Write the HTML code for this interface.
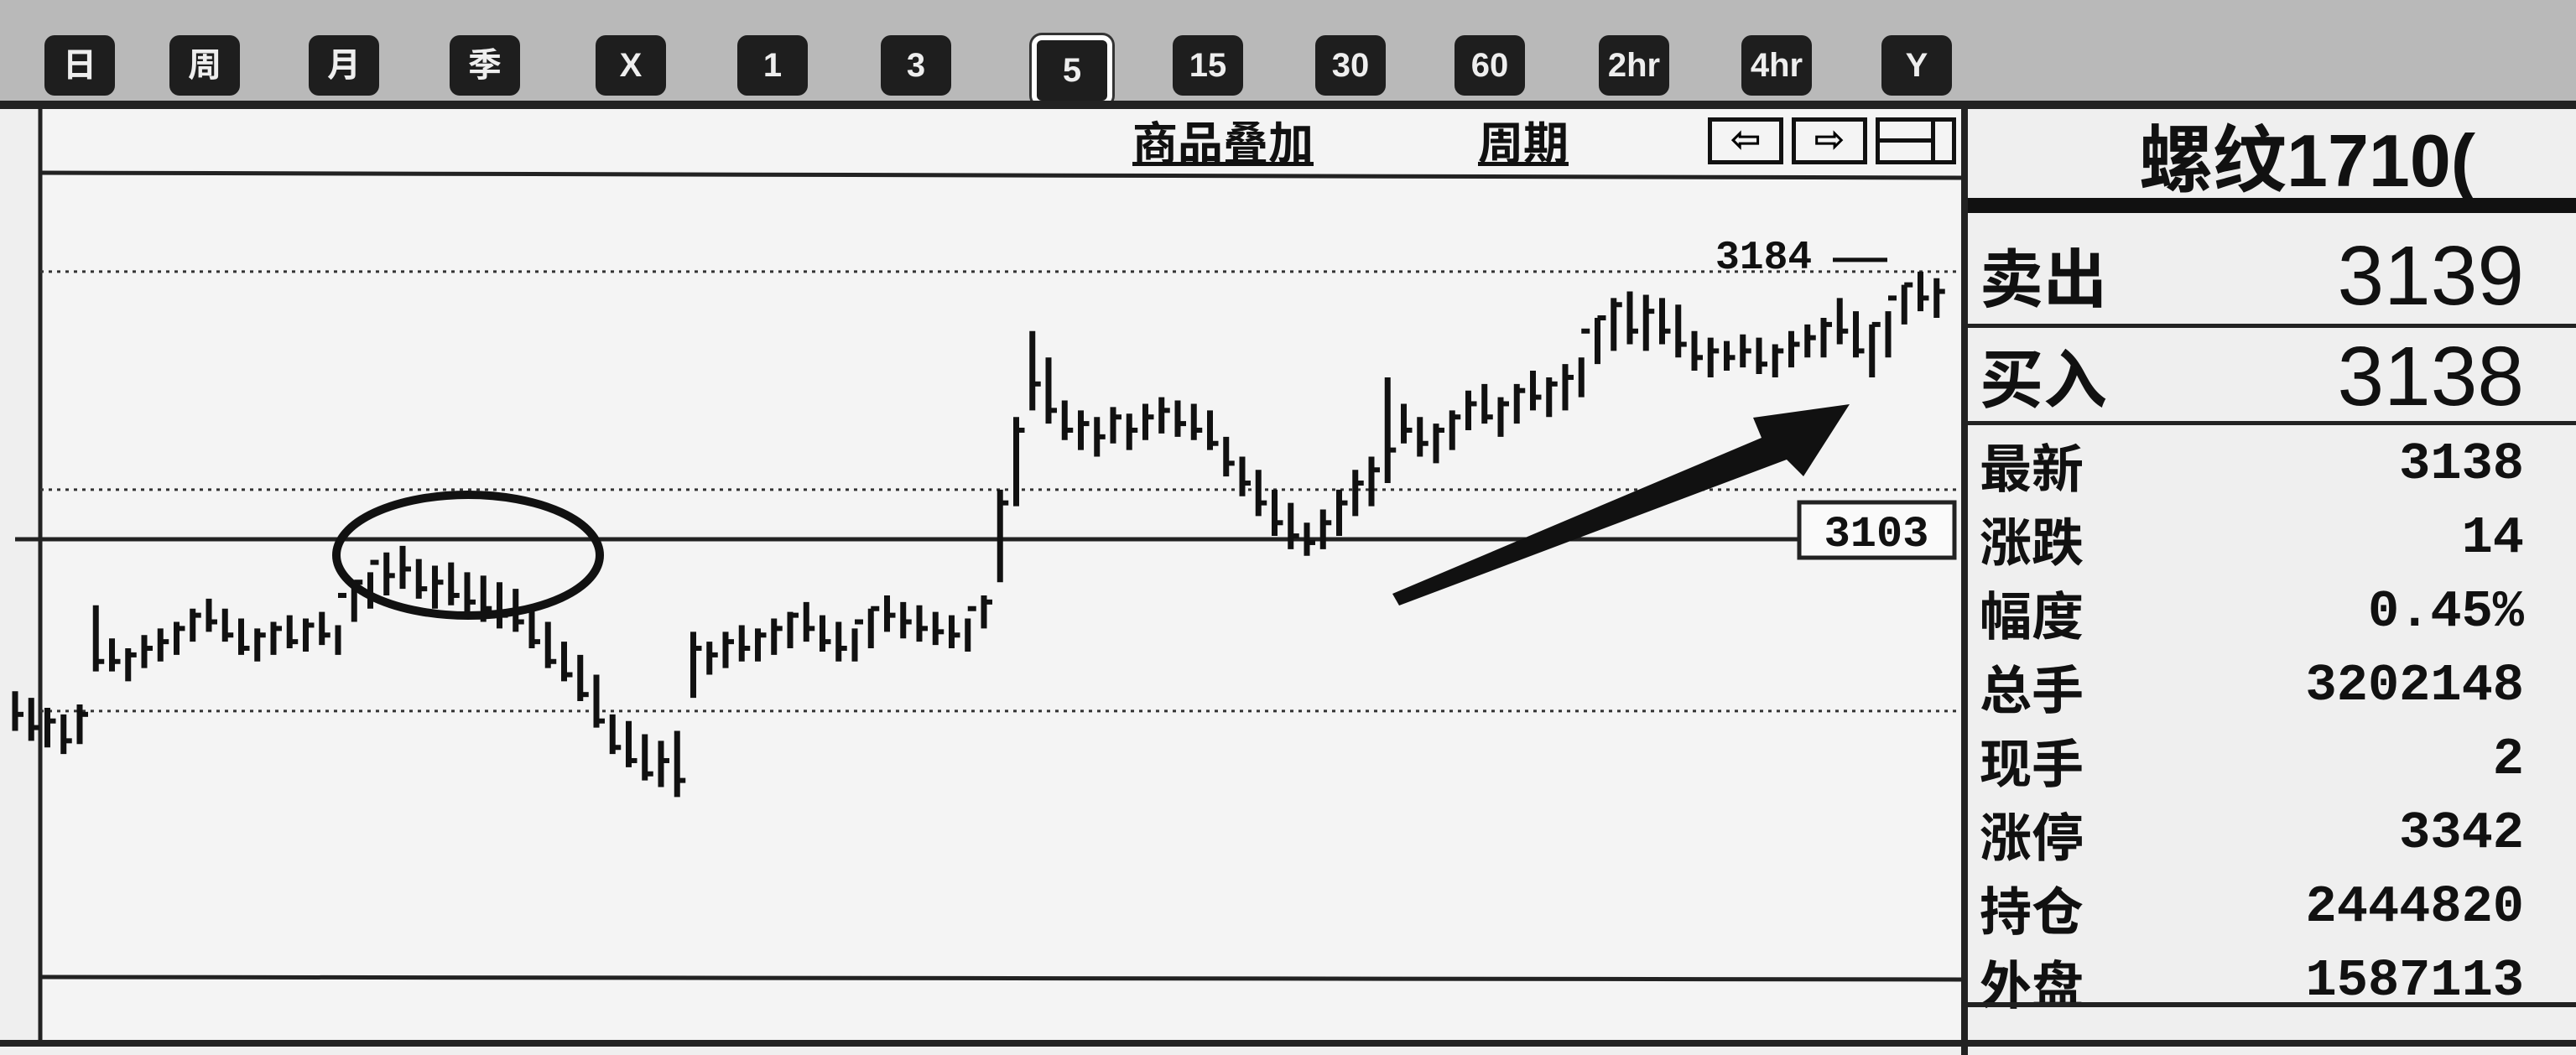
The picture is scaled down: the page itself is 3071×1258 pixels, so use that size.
<!DOCTYPE html>
<html><head><meta charset="utf-8"><style>
html,body{margin:0;padding:0;}
body{width:3071px;height:1258px;overflow:hidden;background:#efefef;position:relative;font-family:"Liberation Sans","Noto Sans CJK SC",sans-serif;}
.tb{position:absolute;left:0;top:0;width:3071px;height:124px;background:#b9b9b9;}
.btn{position:absolute;top:42px;width:84px;height:72px;background:#1e1e1e;border-radius:12px;color:#eee;font:bold 40px "Liberation Sans","Noto Sans CJK SC",sans-serif;text-align:center;line-height:72px;}
.btn.sel{border:6px solid #fff;box-shadow:0 0 0 3px #333;}
.rp{position:absolute;left:2340px;font-weight:bold;color:#111;line-height:1;font-family:"Liberation Sans","Noto Sans CJK SC",sans-serif;}
.lab{position:absolute;left:2360px;font:bold 62px/1 "Noto Sans CJK SC",sans-serif;color:#111;}
.val{position:absolute;right:62px;font:bold 62px/1 "Liberation Mono",monospace;color:#111;text-align:right;}
</style></head><body>
<div class="tb"></div>
<div id="btns"></div>
<div style="position:absolute;left:0;top:120px;width:3071px;height:10px;background:#222"></div>
<svg id="chart" width="3071" height="1258" style="position:absolute;left:0;top:0"></svg>
<div style="position:absolute;left:1350px;top:140px;font:bold 54px/1 'Noto Sans CJK SC',sans-serif;text-decoration:underline;color:#111">商品叠加</div>
<div style="position:absolute;left:1762px;top:140px;font:bold 54px/1 'Noto Sans CJK SC',sans-serif;text-decoration:underline;color:#111">周期</div>
<div style="position:absolute;left:2036px;top:140px;width:90px;height:56px;border:5px solid #111;box-sizing:border-box;font:bold 44px 'DejaVu Sans';line-height:44px;text-align:center">⇦</div>
<div style="position:absolute;left:2136px;top:140px;width:90px;height:56px;border:5px solid #111;box-sizing:border-box;font:bold 44px 'DejaVu Sans';line-height:44px;text-align:center">⇨</div>
<div style="position:absolute;left:2236px;top:140px;width:96px;height:56px;border:5px solid #111;box-sizing:border-box"><div style="position:absolute;left:0;right:20px;top:20px;height:5px;background:#111"></div><div style="position:absolute;right:20px;top:0;bottom:0;width:5px;background:#111"></div></div>
<div style="position:absolute;left:2338px;top:130px;width:8px;height:1128px;background:#222"></div>
<div class="rp" style="left:2550px;top:148px;font-size:88px;">螺纹1710(</div>
<div style="position:absolute;left:2346px;top:236px;width:725px;height:18px;background:#111"></div>
<div class="lab" style="top:289px;font-size:76px">卖出</div>
<div class="val" style="top:279px;font:100px/1 'Liberation Sans',sans-serif">3139</div>
<div style="position:absolute;left:2346px;top:386px;width:725px;height:5px;background:#222"></div>
<div class="lab" style="top:409px;font-size:76px">买入</div>
<div class="val" style="top:399px;font:100px/1 'Liberation Sans',sans-serif">3138</div>
<div style="position:absolute;left:2346px;top:502px;width:725px;height:5px;background:#222"></div>
<div id="rows"></div>
<div style="position:absolute;left:2346px;top:1195px;width:725px;height:6px;background:#222"></div>
<div style="position:absolute;left:0;top:1240px;width:3071px;height:8px;background:#222"></div>
<script>
const labels=["日","周","月","季","X","1","3","5","15","30","60","2hr","4hr","Y"];
const bx=[95,244,410,578,752,921,1092,1272,1440,1610,1776,1948,2118,2285];
const bc=document.getElementById('btns');
labels.forEach((t,i)=>{const d=document.createElement('div');d.className='btn'+(t==='5'?' sel':'');d.style.left=(bx[i]-42)+'px';d.textContent=t;


bc.appendChild(d);});
const rl=["最新","涨跌","幅度","总手","现手","涨停","持仓","外盘"];
const rv=["3138","14","0.45%","3202148","2","3342","2444820","1587113"];
const rc=document.getElementById('rows');
rl.forEach((t,i)=>{const y=523+i*88;
const a=document.createElement('div');a.className='lab';a.style.top=y+'px';a.textContent=t;


const b=document.createElement('div');b.className='val';b.style.top=y+'px';b.textContent=rv[i];


rc.appendChild(a);rc.appendChild(b);});

const highs=[3057,3055,3052,3050,3053,3083,3073,3070,3074,3076,3078,3082,3085,3082,3079,3076,3078,3080,3079,3081,3077,3090,3093,3099,3101,3097,3095,3096,3093,3092,3090,3088,3082,3078,3072,3068,3062,3050,3048,3044,3042,3045,3075,3072,3075,3077,3076,3079,3081,3084,3080,3078,3076,3082,3086,3084,3083,3081,3080,3079,3086,3118,3140,3166,3158,3145,3142,3140,3143,3141,3144,3146,3145,3144,3142,3134,3128,3124,3118,3114,3108,3112,3118,3124,3128,3152,3144,3140,3138,3142,3148,3150,3146,3150,3154,3152,3156,3158,3170,3176,3178,3177,3176,3174,3166,3164,3163,3165,3164,3162,3166,3168,3170,3176,3172,3168,3172,3180,3184,3182];
const lows=[3045,3042,3040,3038,3041,3063,3063,3060,3064,3066,3068,3072,3075,3072,3068,3066,3068,3070,3069,3071,3068,3078,3082,3086,3088,3085,3082,3083,3080,3078,3076,3075,3070,3064,3060,3054,3046,3038,3034,3030,3028,3025,3055,3062,3064,3066,3066,3068,3070,3072,3069,3066,3066,3070,3075,3073,3072,3071,3070,3069,3076,3090,3113,3142,3138,3133,3130,3128,3132,3130,3133,3135,3134,3133,3130,3122,3116,3110,3104,3100,3098,3100,3104,3110,3113,3120,3132,3128,3126,3130,3136,3138,3134,3138,3142,3140,3142,3146,3156,3160,3162,3160,3162,3158,3154,3152,3154,3155,3153,3152,3155,3158,3158,3162,3158,3152,3158,3168,3172,3170];
const closes=[3050,3046,3048,3042,3050,3066,3066,3068,3070,3072,3076,3080,3078,3074,3070,3074,3076,3072,3077,3074,3086,3090,3096,3092,3094,3088,3090,3086,3084,3082,3080,3078,3072,3066,3062,3056,3048,3040,3036,3032,3036,3030,3070,3068,3072,3070,3074,3076,3080,3076,3072,3070,3078,3082,3080,3078,3076,3075,3074,3082,3084,3114,3136,3150,3142,3136,3138,3134,3140,3136,3140,3142,3138,3136,3132,3126,3120,3114,3108,3104,3102,3108,3114,3120,3124,3130,3136,3132,3136,3140,3144,3140,3144,3148,3146,3150,3152,3166,3170,3174,3166,3172,3166,3162,3158,3160,3158,3160,3156,3160,3162,3164,3168,3166,3160,3168,3176,3180,3176,3178];
const refPrice=3103, gridPrices=[3184,3118,3051];
const svg=document.getElementById('chart');const NS='http://www.w3.org/2000/svg';
const yS=p=>643-(p-refPrice)*3.94;
const xS=i=>18+i*19.25;
function el(t,a,n){const e=document.createElementNS(NS,t);for(const k in a)e.setAttribute(k,a[k]);


svg.appendChild(e);return e;}
el('rect',{x:48,y:130,width:2290,height:1110,fill:'#f4f4f4'},'chart-bg');
el('line',{x1:48,y1:130,x2:48,y2:1240,stroke:'#222','stroke-width':5},'left-border');
el('line',{x1:48,y1:206,x2:2338,y2:212,stroke:'#222','stroke-width':5},'header-rule');
gridPrices.forEach(p=>{el('line',{x1:48,y1:yS(p),x2:2335,y2:yS(p),stroke:'#333','stroke-width':3,'stroke-dasharray':'4 6'},'grid-line');});
el('line',{x1:18,y1:yS(refPrice),x2:2145,y2:yS(refPrice),stroke:'#222','stroke-width':5},'reference-line');
el('rect',{x:2145,y:yS(refPrice)-44,width:185,height:66,fill:'#fafafa',stroke:'#222','stroke-width':5},'reference-label-box');
const t1=el('text',{x:2237,y:yS(refPrice)+8,'font-size':52,'font-family':'Liberation Mono, monospace','font-weight':'bold','text-anchor':'middle',fill:'#111'},'reference-label');t1.textContent=String(refPrice);
const t2=el('text',{x:2045,y:yS(3184)-4,'font-size':48,'font-family':'Liberation Mono, monospace','font-weight':'bold',fill:'#111'},'high-label');t2.textContent='3184';
el('line',{x1:2185,y1:yS(3184)-14,x2:2250,y2:yS(3184)-14,stroke:'#111','stroke-width':5},'high-pointer');
el('line',{x1:48,y1:1165,x2:2338,y2:1168,stroke:'#222','stroke-width':5},'chart-bottom-rule');
highs.forEach((h,i)=>{const x=xS(i);
el('line',{x1:x,y1:yS(h),x2:x,y2:yS(lows[i]),stroke:'#111','stroke-width':7},'price-bar');
el('line',{x1:x,y1:yS(closes[i]),x2:x+10,y2:yS(closes[i]),stroke:'#111','stroke-width':6},'close-tick');});
el('ellipse',{cx:558,cy:662,rx:157,ry:72,fill:'none',stroke:'#111','stroke-width':10},'highlight-circle');
el('polygon',{points:'1668,722 1660,708 2100,522 2090,498 2205,482 2150,568 2130,548',fill:'#111'},'trend-arrow');
</script>
</body></html>
